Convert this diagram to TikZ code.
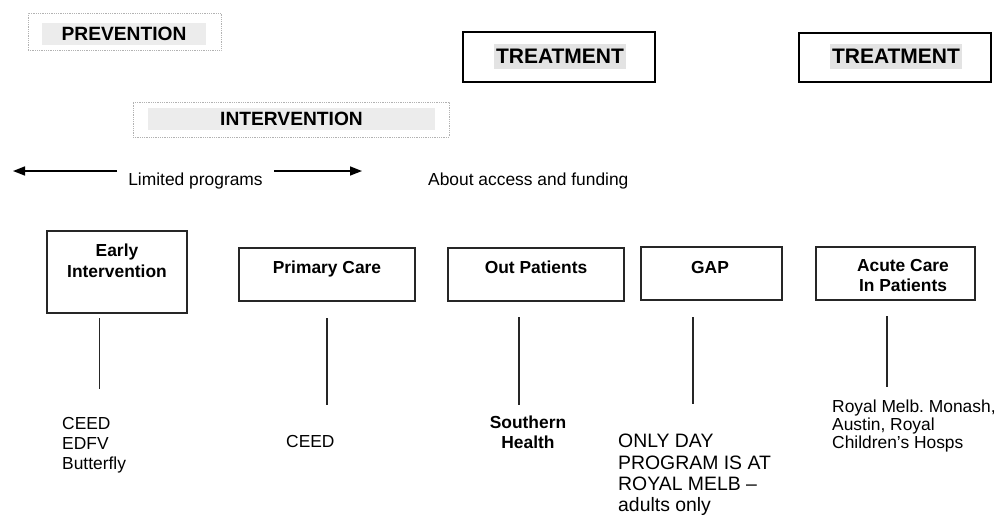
\documentclass[tikz,border=0pt]{standalone}
\usepackage{fontspec}
\setmainfont{Liberation Sans}
\frenchspacing
\usetikzlibrary{arrows.meta}
\tikzset{
  hdrframe/.style={draw=gray!60, densely dotted, line width=0.8pt, inner sep=0pt, outer sep=0pt},
  hdrtext/.style={fill=gray!15, inner sep=0pt, font=\fontsize{19.2}{22}\selectfont\bfseries},
  treatframe/.style={draw=black, line width=2.2pt, inner sep=0pt, outer sep=0pt, minimum width=192pt},
  treattext/.style={fill=gray!22, inner sep=0pt, minimum width=132pt, minimum height=25pt, font=\fontsize{21}{24}\selectfont\bfseries},
  unitbox/.style={draw=black!85, line width=1.3pt, inner sep=0pt, outer sep=0pt},
  unitlabel/.style={inner sep=0pt, align=center, font=\fontsize{17.4}{21}\selectfont\bfseries},
  plain/.style={inner sep=0pt, font=\fontsize{17.4}{20}\selectfont},
  stem/.style={draw=black!85, line width=1.3pt},
  arr/.style={draw=black, line width=1.5pt, -{Triangle[length=12pt,width=9pt]}}
}
\begin{document}
\begin{tikzpicture}[x=1pt,y=-1pt]
\useasboundingbox (0,0) rectangle (996,515);

% header boxes
\node[hdrframe, minimum width=193pt, minimum height=37pt] (prevbox) at (124.5,31.5) {};
\node[hdrtext, minimum width=164pt, minimum height=22pt] (prev) at (124,34) {PREVENTION};
\node[hdrframe, minimum width=316pt, minimum height=35pt] (intbox) at (291,119.5) {};
\node[hdrtext, minimum width=287pt, minimum height=22pt] (int) at (291.5,119) {INTERVENTION};

\node[treatframe, minimum height=50pt] (t1box) at (559,57) {};
\node[treattext] (t1) at (560,56.5) {TREATMENT};
\node[treatframe, minimum height=49pt] (t2box) at (895,57.5) {};
\node[treattext] (t2) at (896,56.5) {TREATMENT};

% arrows and captions
\coordinate (la1) at (117,171);
\coordinate (la2) at (13,171);
\coordinate (ra1) at (274,171);
\coordinate (ra2) at (362,171);
\draw[arr] (la1) -- (la2);
\draw[arr] (ra1) -- (ra2);
\node[plain, anchor=base] (lim) at (195.5,185) {Limited programs};
\node[plain, anchor=base west] (about) at (428,185) {About access and funding};

% unit boxes
\node[unitbox, minimum width=140pt, minimum height=82pt] (ei) at (117,272) {};
\node[unitlabel, anchor=north] (eil) at (117,243.5) {Early\\Intervention};
\node[unitbox, minimum width=176pt, minimum height=53pt] (pc) at (327,274.5) {};
\node[unitlabel, anchor=base] (pcl) at (327,273) {Primary Care};
\node[unitbox, minimum width=176pt, minimum height=53pt] (op) at (536,274.5) {};
\node[unitlabel, anchor=base] (opl) at (536,273) {Out Patients};
\node[unitbox, minimum width=141pt, minimum height=53pt] (gap) at (711.5,273.5) {};
\node[unitlabel, anchor=base] (gapl) at (710,273) {GAP};
\node[unitbox, minimum width=159pt, minimum height=53pt] (ac) at (895.5,273.5) {};
\node[unitlabel, anchor=north, font=\fontsize{17.4}{20}\selectfont\bfseries] (acl) at (903,259.5) {Acute Care\\In Patients};

% stems
\coordinate (s1a) at (99.5,318);  \coordinate (s1b) at (99.5,389);
\coordinate (s2a) at (327,318);   \coordinate (s2b) at (327,405);
\coordinate (s3a) at (519,317);   \coordinate (s3b) at (519,405);
\coordinate (s4a) at (693,317);   \coordinate (s4b) at (693,404);
\coordinate (s5a) at (887,316);   \coordinate (s5b) at (887,387);
\draw[stem] (s1a) -- (s1b);
\draw[stem] (s2a) -- (s2b);
\draw[stem] (s3a) -- (s3b);
\draw[stem] (s4a) -- (s4b);
\draw[stem] (s5a) -- (s5b);

% lower texts
\node[plain, align=left, anchor=north west] (eit) at (62,417.3) {CEED\\EDFV\\Butterfly};
\node[plain, anchor=base west] (pct) at (286,447) {CEED};
\node[plain, align=center, anchor=north, font=\fontsize{17.4}{20}\selectfont\bfseries] (opt) at (528,415.3) {Southern\\Health};
\node[plain, align=left, anchor=north west, font=\fontsize{19.4}{21.3}\selectfont] (gapt) at (618,434) {ONLY DAY\\PROGRAM IS AT\\ROYAL MELB –\\adults only};
\node[plain, align=left, anchor=north west, font=\fontsize{17.4}{18.3}\selectfont] (act) at (832,399.5) {Royal Melb. Monash,\\Austin, Royal\\Children’s Hosps};
\end{tikzpicture}
\end{document}
